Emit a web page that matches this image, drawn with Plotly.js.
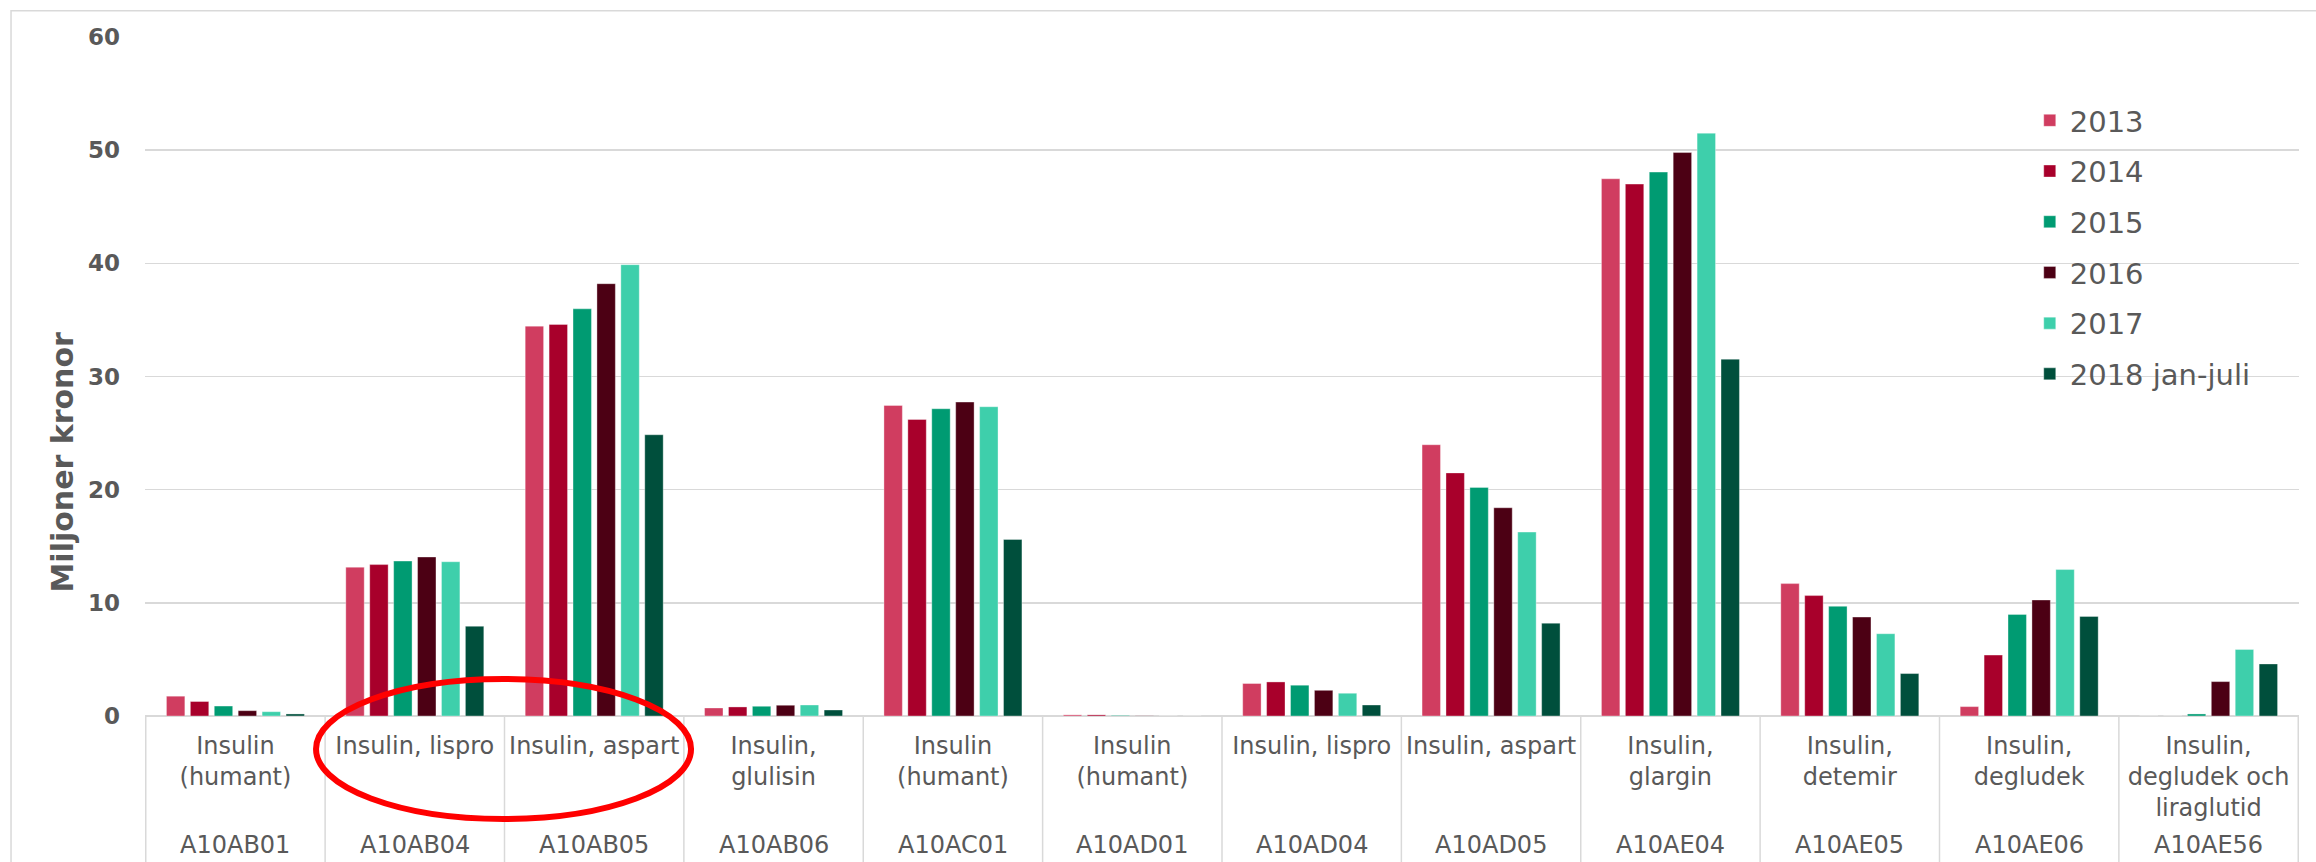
<!DOCTYPE html>
<html><head><meta charset="utf-8">
<script src="https://cdn.plot.ly/plotly-3.0.1.min.js"></script>
<style>html,body{margin:0;padding:0;background:#fff;}#chart{width:2316px;height:862px;}</style>
</head><body><div id="chart"></div>
<script>
const codes = ["A10AB01","A10AB04","A10AB05","A10AB06","A10AC01","A10AD01","A10AD04","A10AD05","A10AE04","A10AE05","A10AE06","A10AE56"];
const names = ["Insulin<br>(humant)","Insulin, lispro","Insulin, aspart","Insulin,<br>glulisin","Insulin<br>(humant)","Insulin<br>(humant)","Insulin, lispro","Insulin, aspart","Insulin,<br>glargin","Insulin,<br>detemir","Insulin,<br>degludek","Insulin,<br>degludek och<br>liraglutid"];
const seriesNames = ["2013","2014","2015","2016","2017","2018 jan-juli"];
const v2013 = [1.75,13.15,34.45,0.71,27.44,0.10,2.87,23.97,47.47,11.70,0.83,0];
const v2014 = [1.28,13.38,34.60,0.80,26.20,0.10,3.01,21.48,47.00,10.64,5.38,0];
const v2015 = [0.88,13.69,35.98,0.86,27.15,0.05,2.72,20.20,48.06,9.69,8.98,0.18];
const v2016 = [0.47,14.05,38.20,0.95,27.74,0.02,2.27,18.40,49.79,8.74,10.25,3.04];
const v2017 = [0.38,13.63,39.88,0.97,27.33,0,2.01,16.25,51.50,7.27,12.94,5.88];
const v2018 = [0.18,7.93,24.85,0.53,15.60,0,0.97,8.20,31.53,3.75,8.80,4.60];
const seriesValues = [v2013,v2014,v2015,v2016,v2017,v2018];
const colors = ["#D03D60","#A8002B","#009B72","#4C0014","#3ECFAB","#004F3C"];

const gray = "#595959";
const lineGray = "#d9d9d9";

const traces = seriesNames.map((n,i)=>({
  type:"bar", name:n, x:codes, y:seriesValues[i],
  legendgroup:"g"+i,
  marker:{color:colors[i], line:{color:"rgba(255,255,255,0.35)", width:1}},
  hoverinfo:"x+y+name"
}));

const shapes = [];
for (let i=0;i<=codes.length;i++){
  shapes.push({type:"line", xref:"x", yref:"paper", x0:i-0.5, x1:i-0.5, y0:0, y1:-0.3,
    line:{color:lineGray, width:1.5}});
}
shapes.push({type:"rect", xref:"paper", yref:"paper", x0:-0.0622, x1:1.2, y0:-0.5, y1:1.0387,
  line:{color:lineGray, width:1.5}, fillcolor:"rgba(0,0,0,0)"});
shapes.push({type:"circle", xref:"paper", yref:"paper", x0:0.0794, x1:0.2535, y0:-0.1517, y1:0.0545,
  line:{color:"#FF0000", width:6}, fillcolor:"rgba(0,0,0,0)"});

const annotations = codes.map(c=>({
  xref:"x", yref:"paper", x:c, y:(716-845)/679, xanchor:"center", yanchor:"middle",
  text:c, showarrow:false, borderpad:0, font:{family:"DejaVu Sans", size:24, color:gray}
}));
annotations.push({
  xref:"paper", yref:"paper", x:(61.5-145)/2154, y:(716-462)/679, xanchor:"center", yanchor:"middle",
  text:"Miljoner kronor", textangle:-90, showarrow:false,
  font:{family:"DejaVu Sans", size:30, color:gray, weight:"bold"}
});

const layout = {
  width:2316, height:862,
  margin:{l:145, r:17, t:37, b:146},
  paper_bgcolor:"#fff", plot_bgcolor:"#fff",
  barmode:"group", bargap:0.2, bargroupgap:0.23,
  showlegend:true,
  legend:{x:0.875, y:0.9146, xanchor:"left", yanchor:"top", orientation:"v",
    font:{family:"DejaVu Sans", size:29, color:gray}, tracegroupgap:10, bgcolor:"rgba(0,0,0,0)"},
  xaxis:{type:"category", tickmode:"array", tickvals:codes, ticktext:names,
    showgrid:false, showline:false, zeroline:false, ticks:"", ticklabelstandoff:13,
    tickangle:0, tickfont:{family:"DejaVu Sans", size:24, color:gray}},
  yaxis:{range:[0,60], dtick:10, tick0:0, showgrid:true, gridcolor:lineGray, gridwidth:1.5,
    zeroline:true, zerolinecolor:lineGray, zerolinewidth:1.5, showline:false, ticks:"",
    ticklabelstandoff:24, tickfont:{family:"DejaVu Sans", size:23, color:gray, weight:"bold"}},
  shapes:shapes, annotations:annotations
};
Plotly.newPlot("chart", traces, layout, {displayModeBar:false, staticPlot:true});
</script></body></html>
